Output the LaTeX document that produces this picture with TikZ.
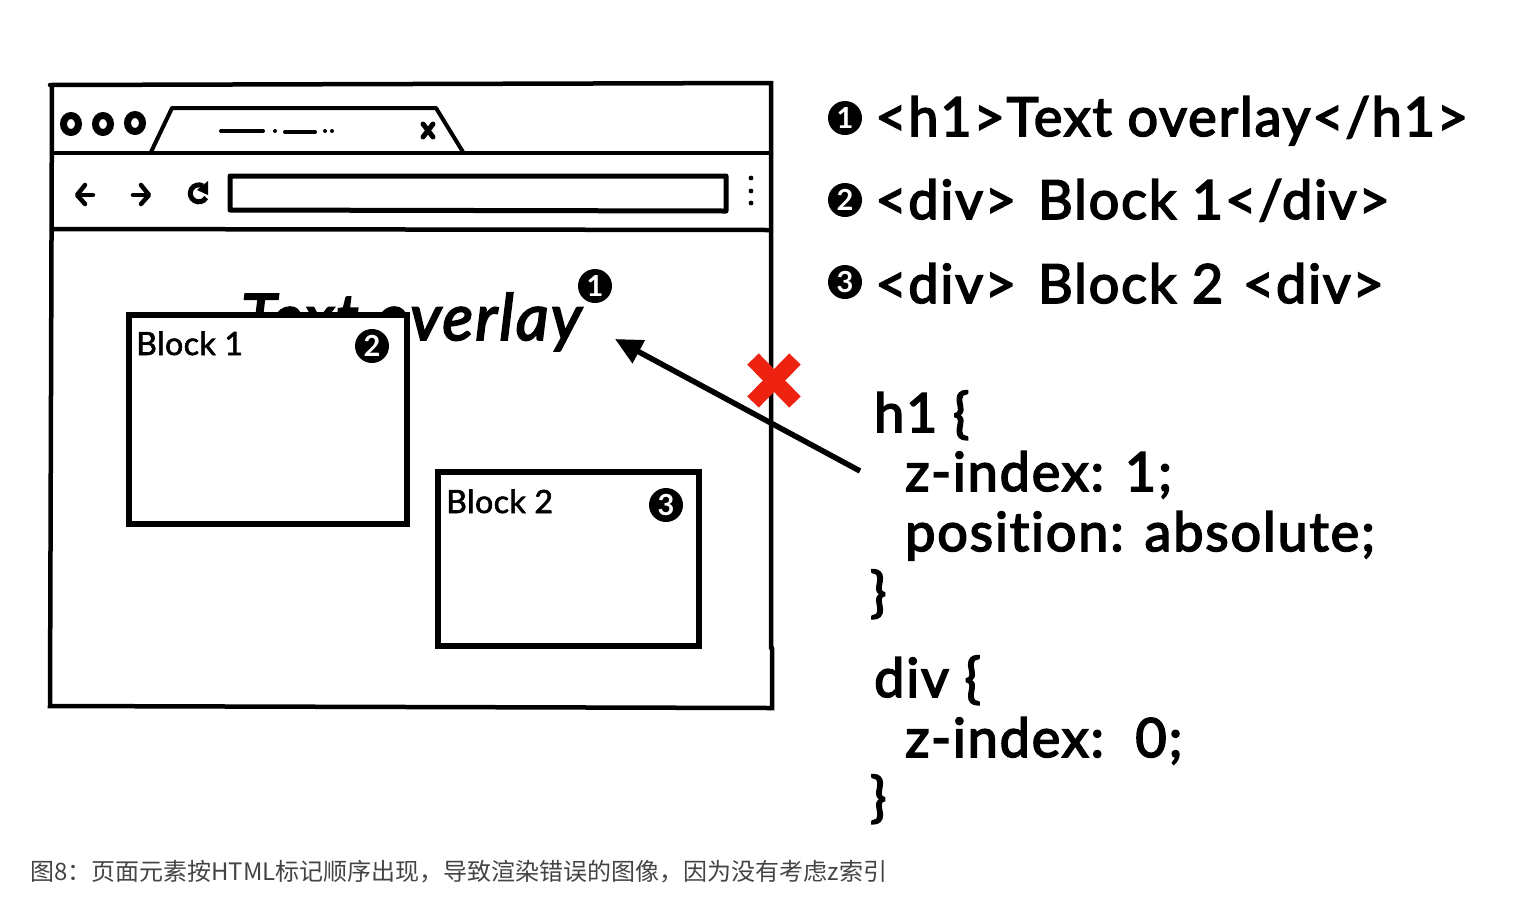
\documentclass[tikz,border=0pt]{standalone}
\usepackage{fontspec}
\setmainfont{Lato}
\newfontfamily\cjkfont{Noto Sans CJK SC}
\newfontfamily\labelfont[FakeBold=3, LetterSpace=3.4, Ligatures=NoCommon]{Lato}
\newfontfamily\smallfont[FakeBold=2, LetterSpace=1.5, Ligatures=NoCommon]{Lato}
\usetikzlibrary{arrows.meta, positioning}
\definecolor{cross_red}{HTML}{EE2211}
\definecolor{caption_grey}{HTML}{444444}
\tikzset{
  frame_line/.style = {line width=4.5pt, line cap=round},
  tool_line/.style = {line width=4pt, line cap=round, line join=round},
  block_box/.style = {draw, line width=6pt, fill=white},
  badge/.style = {circle, fill=black, text=white, inner sep=0, minimum size=34pt, font=\fontsize{29}{29}\selectfont\bfseries},
  tag_line/.style = {anchor=base west, inner sep=0, font=\fontsize{54}{54}\selectfont\labelfont},
  code_line/.style = {anchor=base west, inner sep=0, font=\fontsize{54}{54}\selectfont\labelfont},
  block_label/.style = {anchor=base west, inner sep=0, font=\fontsize{32}{32}\selectfont\smallfont},
  caption_line/.style = {anchor=base west, inner sep=0, text=caption_grey, font=\fontsize{24}{24}\selectfont\cjkfont}
}
\begin{document}
\begin{tikzpicture}[x=1pt, y=-1pt]
    \useasboundingbox (0,0) rectangle (1514,906);

    % Window
    \draw[frame_line] (50,85)--(771,83)--(771,648);
    \draw[frame_line] (772,648)--(772,708)--(50,706)--(52,85);
    \draw[frame_line] (52,153)--(771,153);
    \draw[frame_line] (52,229)--(771,230);

    % Tab
    \draw[tool_line] (151,152)--(172,108)--(436,108)--(463,152);
    \foreach \cx/\cy in {71/124, 103/124, 135/123}
        \draw[line width=7pt] (\cx,\cy) ellipse (7.5pt and 8.5pt);
    \draw[tool_line] (221,131)--(263,131);
    \draw[tool_line] (285,132)--(315,132);
    \foreach \cx/\cy in {275/131, 325/131, 332/131}
        \fill (\cx,\cy) circle (2pt);
    \draw[line width=5pt, line cap=round] (423,124)--(433,137);
    \draw[line width=5pt, line cap=round] (433,124)--(423,137);

    % Toolbar
    \draw[line width=4.5pt, line cap=round] (93,195)--(78,195);
    \draw[line width=4.5pt, line cap=round, line join=round] (85,185)--(77,195)--(85,204);
    \draw[line width=4.5pt, line cap=round] (133,195)--(148,195);
    \draw[line width=4.5pt, line cap=round, line join=round] (141,185)--(149,195)--(141,204);
    \draw[line width=5pt] (203,186) arc (60:330:8.5pt);
    \fill (208,181)--(208,195)--(197,190)--cycle;
    \draw[line width=5pt, line cap=round, line join=round] (230,176)--(726,176)--(726,211)--(230,210)--cycle;
    \foreach \cy in {178, 191, 203}
        \fill (751,\cy) circle (2.4pt);

    % Page content
    \node[anchor=base west, inner sep=0, font=\fontsize{64}{64}\selectfont\labelfont\itshape] (title) at (241,340) {Text overlay};
    \node[block_box, minimum width=278pt, minimum height=209pt, anchor=north west, outer sep=0] (block_1) at (129,315) {};
    \node[block_box, minimum width=261pt, minimum height=174pt, anchor=north west, outer sep=0] (block_2) at (438,472) {};
    \node[block_label] (label_1) at (136,355) {Block 1};
    \node[block_label] (label_2) at (446,513) {Block 2};

    % Badges
    \node[badge] (b_title) at (595,286) {1};
    \node[badge] (b_block_1) at (372,346) {2};
    \node[badge] (b_block_2) at (666,505) {3};

    % Tags
    \node[badge] (b_1) at (845,118) {1};
    \node[badge] (b_2) at (845,200) {2};
    \node[badge] (b_3) at (845,282) {3};
    \node[tag_line] (tag_1) at (875,136) {<h1>Text overlay</h1>};
    \node[tag_line] (tag_2) at (875,219) {<div>\hspace{6pt} Block 1</div>};
    \node[tag_line] (tag_3) at (875,303) {<div>\hspace{6pt} Block 2\hspace{4pt} <div>};

    % Code
    \node[code_line] (css_1) at (874,432) {h1 \{};
    \node[code_line] (css_2) at (905,491) {z-index: 1;};
    \node[code_line] (css_3) at (905,551) {position: absolute;};
    \node[code_line] (css_4) at (870,611) {\}};
    \node[code_line] (css_5) at (874,697) {div \{};
    \node[code_line] (css_6) at (905,757) {z-index:\ \ 0;};
    \node[code_line] (css_7) at (870,816) {\}};

    % Arrow and cross
    \coordinate (arrow_start) at (860,471);
    \coordinate (arrow_end) at (615,339);
    \draw[line width=5.5pt, -{Triangle[length=27pt,width=25pt]}] (arrow_start)--(arrow_end);
    \draw[line width=16pt, cross_red] (753,359)--(795,402);
    \draw[line width=16pt, cross_red] (795,359)--(753,402);

    % Caption
    \node[caption_line] (caption) at (30,880) {图8：页面元素按HTML标记顺序出现，导致渲染错误的图像，因为没有考虑z索引};
\end{tikzpicture}
\end{document}
